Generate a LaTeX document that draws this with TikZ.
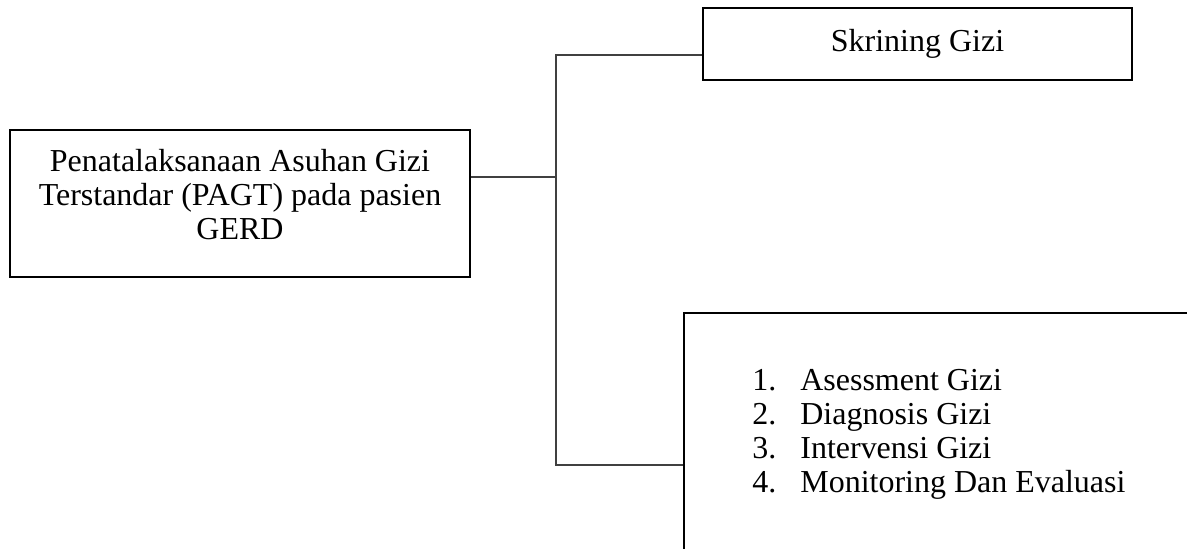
\documentclass[tikz,border=0pt]{standalone}
\usepackage{fontspec}
\setmainfont{Liberation Serif}
\usetikzlibrary{positioning, calc}
\tikzset{
  framebox/.style={rectangle,draw=black,line width=1.1pt,inner sep=0pt},
  boxtext/.style={align=center,inner sep=0pt,font=\fontsize{18.2}{19.4}\selectfont},
  itemtext/.style={inner sep=0pt,font=\fontsize{18.2}{19.4}\selectfont},
  link/.style={draw=black!75,line width=0.6pt}
}

\begin{document}
\begin{tikzpicture}
  \useasboundingbox (0,0) rectangle (23.74,10.96);
  \clip (0,0) rectangle (23.74,10.96);

  % PAGT box on the left
  \node[framebox,minimum width=9.2cm,minimum height=2.94cm] (pagt) at (4.8,6.89) {};
  \node[boxtext] (pagtlbl) at ([yshift=0.18cm]pagt.center)
    {Penatalaksanaan Asuhan Gizi\\Terstandar (PAGT) pada pasien\\GERD};

  % Skrining box, top right
  \node[framebox,boxtext,minimum width=8.58cm,minimum height=1.44cm] (skrining)
    at (18.35,10.08) {Skrining Gizi};

  % Steps box, bottom right (runs off the page)
  \node[framebox,anchor=north west,minimum width=11cm,minimum height=6cm] (steps)
    at (13.66,4.72) {};
  \foreach \i/\step in {1/Asessment Gizi,2/Diagnosis Gizi,3/Intervensi Gizi,4/Monitoring Dan Evaluasi}{
    \pgfmathsetmacro{\yb}{3.16-(\i-1)*0.68}
    \node[itemtext,anchor=base west] (num\i) at (15.04,\yb) {\i.};
    \node[itemtext,anchor=base west] (item\i) at (16.0,\yb) {\step};
  }

  % Connectors
  \coordinate (fork) at (11.12,7.42);
  \coordinate (forktop) at (11.12,9.86);
  \coordinate (forkbot) at (11.12,1.66);
  \draw[link] (pagt.east |- fork) -- (fork);
  \draw[link] (skrining.west |- forktop) -- (forktop) -- (forkbot) -- (steps.west |- forkbot);

\end{tikzpicture}
\end{document}
